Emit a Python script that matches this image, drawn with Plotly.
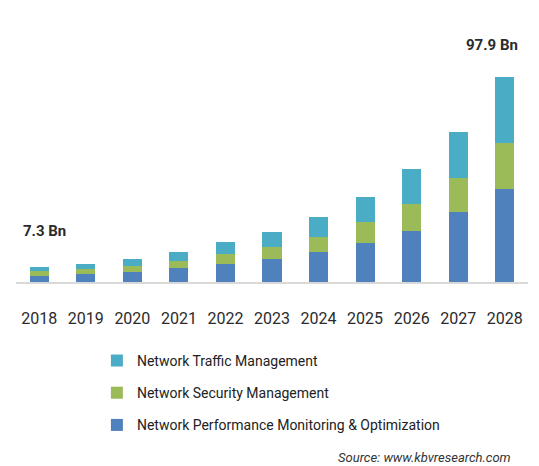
import plotly.graph_objects as go

# Market size by segment, USD billion
years = ["2018", "2019", "2020", "2021", "2022", "2023", "2024", "2025", "2026", "2027", "2028"]
performance = [3.1, 3.7, 4.8, 6.5, 8.4, 11.0, 14.4, 18.5, 24.5, 33.2, 44.2]
security = [2.0, 2.3, 2.7, 3.6, 4.9, 5.6, 7.2, 10.3, 12.6, 16.2, 22.2]
traffic = [2.2, 2.6, 3.5, 4.3, 5.8, 7.4, 9.5, 11.9, 16.7, 22.2, 31.5]

series_names = [
    "Network Performance Monitoring & Optimization",
    "Network Security Management",
    "Network Traffic Management",
]
colors = ["#4F81BD", "#9BBB59", "#4BACC6"]
legend_ranks = [3, 2, 1]

FONT = "Roboto, Liberation Sans, sans-serif"

fig = go.Figure()
for name, vals, col, rank in zip(series_names, [performance, security, traffic], colors, legend_ranks):
    fig.add_trace(go.Bar(
        x=years, y=vals, name=name, marker=dict(color=col, line=dict(width=0)),
        legendgroup=name, legendrank=rank,
    ))

totals = [round(a + b + c, 1) for a, b, c in zip(performance, security, traffic)]

# Value callouts for the first and last year (category axis uses serial positions)
first, last = 0, len(years) - 1
fig.add_annotation(x=first, y=totals[first], xref="x", yref="y",
                   text=f"{totals[first]} Bn", showarrow=False,
                   xanchor="center", yanchor="bottom", xshift=5, yshift=25,
                   font=dict(family=FONT, size=15, color="#2b2b2b", weight="bold"))
fig.add_annotation(x=last, y=totals[last], xref="x", yref="y",
                   text=f"{totals[last]} Bn", showarrow=False,
                   xanchor="center", yanchor="bottom", xshift=-13, yshift=21,
                   font=dict(family=FONT, size=15, color="#2b2b2b", weight="bold"))

fig.add_annotation(x=1.0, y=-(457 - 282) / 242, xref="paper", yref="paper",
                   text="<i>Source: www.kbvresearch.com</i>", showarrow=False,
                   xanchor="right", yanchor="middle", xshift=-15,
                   font=dict(family=FONT, size=13, color="#333333"))

fig.update_layout(
    width=539, height=466,
    margin=dict(l=15.5, r=10.5, t=40, b=184),
    paper_bgcolor="white", plot_bgcolor="white",
    barmode="stack", bargap=0.59,
    font=dict(family=FONT, color="#333333"),
    showlegend=True,
    legend=dict(
        traceorder="grouped", tracegroupgap=11,
        x=0.158, xanchor="left", y=-0.26, yanchor="top",
        font=dict(family=FONT, size=14, color="#222222"),
        bgcolor="rgba(0,0,0,0)",
    ),
    xaxis=dict(
        type="category", categoryorder="array", categoryarray=years,
        range=[-0.5, len(years) - 0.5], autorange=False,
        showline=True, linecolor="#d9d9d9", linewidth=1.5,
        ticks="outside", ticklen=21, tickcolor="rgba(0,0,0,0)",
        showgrid=False,
        tickfont=dict(family=FONT, size=16, color="#2b2b2b"),
        fixedrange=True,
    ),
    yaxis=dict(
        range=[0, 115.4], autorange=False, showgrid=False, showticklabels=False,
        zeroline=False, showline=False, fixedrange=True,
    ),
)

fig.write_html("out.html")
